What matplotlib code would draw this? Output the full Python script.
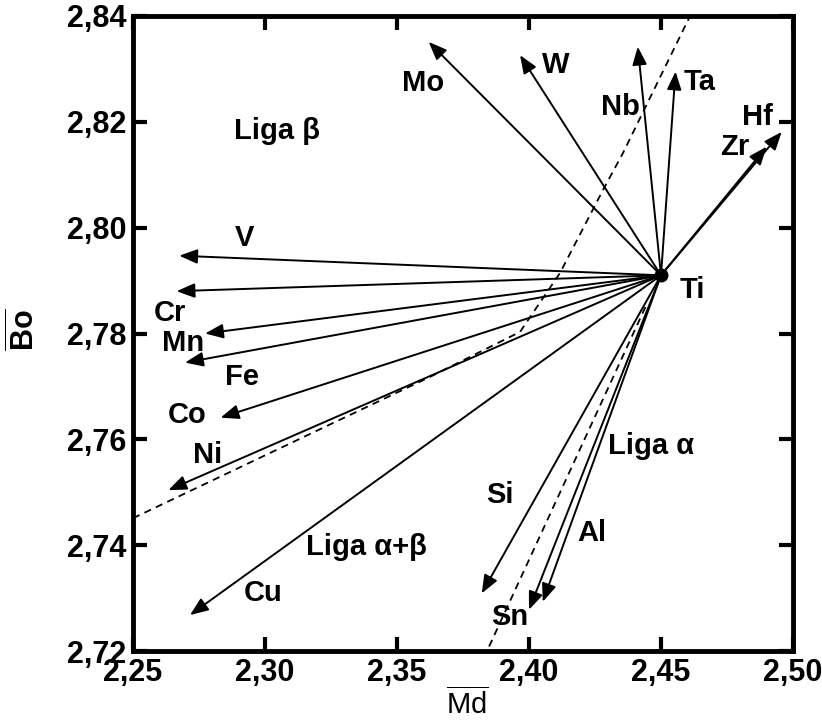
import matplotlib
matplotlib.use("Agg")
import matplotlib.pyplot as plt

plt.rcParams['font.family'] = ['Liberation Sans', 'DejaVu Sans']
plt.rcParams['mathtext.fontset'] = 'custom'
plt.rcParams['mathtext.rm'] = 'Liberation Sans'
plt.rcParams['mathtext.bf'] = 'Liberation Sans:bold'

# ---- data ----
origin_name = 'Ti'
origin_md = 2.450
origin_bo = 2.791

elements = ['Mo', 'W', 'Nb', 'Ta', 'Hf', 'Zr', 'V', 'Cr', 'Mn', 'Fe',
            'Co', 'Ni', 'Cu', 'Si', 'Sn', 'Al']
md_end = [2.362, 2.3966, 2.4412, 2.4555, 2.4957, 2.4900, 2.2675, 2.2665,
          2.2773, 2.2697, 2.2832, 2.2634, 2.2716, 2.3821, 2.4000, 2.4052]
bo_end = [2.8351, 2.8326, 2.8342, 2.8295, 2.8181, 2.8153, 2.7947, 2.7880,
          2.7800, 2.7745, 2.7641, 2.7504, 2.7268, 2.7309, 2.7278, 2.7293]

# beta boundary (dashed curve)
beta_md = [2.250, 2.3625, 2.3966, 2.4117, 2.4280, 2.4356, 2.4610]
beta_bo = [2.7451, 2.7718, 2.7803, 2.7914, 2.8071, 2.8141, 2.8400]
# alpha boundary (dashed line)
alpha_md = [2.4441, 2.3841]
alpha_bo = [2.7850, 2.7200]

region_names = ['Liga \u03b2', 'Liga \u03b1', 'Liga \u03b1+\u03b2']

x_ticks = [2.25, 2.30, 2.35, 2.40, 2.45, 2.50]
y_ticks = [2.72, 2.74, 2.76, 2.78, 2.80, 2.82, 2.84]

# ---- layout (label positions) ----
label_xy = {
    'Mo': (2.3598, 2.8273), 'W': (2.4102, 2.8308), 'Nb': (2.4345, 2.8228),
    'Ta': (2.4648, 2.8275), 'Hf': (2.4864, 2.8209), 'Zr': (2.4780, 2.8152),
    'V': (2.2924, 2.7981), 'Cr': (2.2640, 2.7839), 'Mn': (2.2689, 2.7782),
    'Fe': (2.2913, 2.7718), 'Co': (2.2705, 2.7646), 'Ni': (2.2784, 2.7570),
    'Cu': (2.2992, 2.7310), 'Si': (2.3890, 2.7495), 'Sn': (2.3928, 2.7264),
    'Al': (2.4239, 2.7423),
}
origin_label_xy = (2.4572, 2.7882)
region_xy = [(2.3045, 2.8183), (2.4462, 2.7587), (2.3386, 2.7397)]

fs = 21

fig = plt.figure(figsize=(8.22, 7.25), dpi=100)
ax = fig.add_axes([133/822, 1-651/725, (793-133)/822, (651-16)/725])
ax.set_xlim(2.25, 2.50)
ax.set_ylim(2.72, 2.84)

# dashed boundaries
ax.plot(beta_md, beta_bo, color='black', lw=1.3, ls=(0, (4, 3)))
ax.plot(alpha_md, alpha_bo, color='black', lw=1.3, ls=(0, (4, 3)))

# arrows
for name, x, y in zip(elements, md_end, bo_end):
    ax.annotate('', xy=(x, y), xytext=(origin_md, origin_bo),
                arrowprops=dict(arrowstyle='-|>,head_length=0.55,head_width=0.22',
                                mutation_scale=20, lw=1.4, color='black',
                                shrinkA=0, shrinkB=0))
    lx, ly = label_xy[name]
    ax.text(lx, ly, name, fontsize=fs, fontweight='bold', ha='center', va='center')

ax.plot([origin_md], [origin_bo], 'o', color='black', ms=9, zorder=5)
ax.text(origin_label_xy[0], origin_label_xy[1], origin_name, fontsize=fs,
        fontweight='bold', ha='left', va='center')

for txt, (rx, ry) in zip(region_names, region_xy):
    ax.text(rx, ry, txt, fontsize=fs, fontweight='bold', ha='center', va='center')

ax.set_xticks(x_ticks)
ax.set_yticks(y_ticks)
ax.set_xticklabels([f'{v:.2f}'.replace('.', ',') for v in x_ticks])
ax.set_yticklabels([f'{v:.2f}'.replace('.', ',') for v in y_ticks])
ax.tick_params(direction='in', length=10, width=3, top=True, right=True,
               labelsize=22, pad=5)
for lab in ax.get_xticklabels() + ax.get_yticklabels():
    lab.set_fontweight('bold')
for sp in ax.spines.values():
    sp.set_linewidth(3.5)

fig.text(467/822, 1-704/725, r'$\overline{\mathrm{Md}}$', fontsize=21,
         ha='center', va='center')
fig.text(25/822, 1-330/725, r'$\overline{\mathbf{Bo}}$', fontsize=22,
         ha='center', va='center', rotation=90)

fig.savefig('out.png', dpi=100)
